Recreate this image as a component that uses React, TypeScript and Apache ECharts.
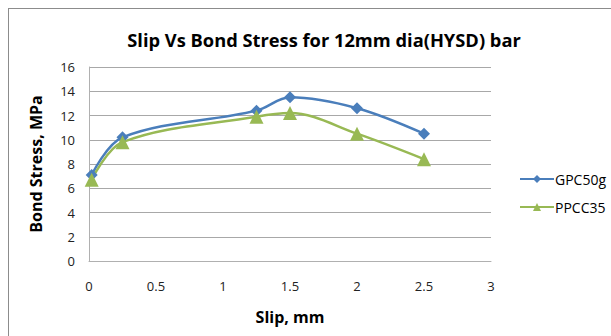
import React, { useEffect, useRef } from "react";
import * as echarts from "echarts";

const slip = [0.02, 0.25, 1.25, 1.5, 2, 2.5];
const gpc50g = [7.1, 10.2, 12.4, 13.5, 12.6, 10.5];
const ppcc35 = [6.7, 9.8, 11.9, 12.2, 10.5, 8.4];
const seriesNames = ["GPC50g", "PPCC35"];
const titleText = "Slip Vs Bond Stress for 12mm dia(HYSD) bar";
const xName = "Slip, mm";
const yName = "Bond Stress, MPa";

const FONT = "'Open Sans', sans-serif";

export default function App() {
  const ref = useRef<HTMLDivElement>(null);
  useEffect(() => {
    document.body.style.margin = "0";
    document.body.style.overflow = "hidden";
    if (!ref.current) return;
    const chart = echarts.init(ref.current, null, { renderer: "svg" });
    chart.setOption({
      animation: false,
      backgroundColor: "#ffffff",
      title: {
        text: titleText,
        left: 319,
        top: 25,
        textAlign: "center",
        textStyle: { fontFamily: FONT, fontWeight: "bold", fontSize: 18.3, color: "#000" },
      },
      graphic: [
        { type: "line", shape: { x1: 8.5, y1: 8, x2: 8.5, y2: 336 }, style: { stroke: "#8c8c8c", lineWidth: 1 } },
        { type: "line", shape: { x1: 8, y1: 8.5, x2: 611, y2: 8.5 }, style: { stroke: "#8c8c8c", lineWidth: 1 } },
      ],
      legend: {
        orient: "vertical",
        left: 519,
        top: 172,
        padding: 0,
        itemWidth: 34,
        itemHeight: 10,
        itemGap: 14,
        data: seriesNames,
        textStyle: { fontFamily: FONT, fontSize: 14, color: "#000", padding: [0, 0, 0, -4] },
      },
      grid: { left: 89, right: 120, top: 67, bottom: 75 },
      xAxis: {
        type: "value",
        min: 0,
        max: 3,
        interval: 0.5,
        name: xName,
        nameLocation: "middle",
        nameGap: 48,
        nameTextStyle: { fontFamily: FONT, fontWeight: "bold", fontSize: 16, color: "#000" },
        axisLine: { show: true, lineStyle: { color: "#b0b0b0", width: 1 } },
        axisTick: { show: false },
        splitLine: { show: false },
        axisLabel: { fontFamily: FONT, fontSize: 13, color: "#222", margin: 18 },
      },
      yAxis: {
        type: "value",
        min: 0,
        max: 16,
        interval: 2,
        name: yName,
        nameLocation: "middle",
        nameGap: 45,
        nameTextStyle: { fontFamily: FONT, fontWeight: "bold", fontSize: 16, color: "#000" },
        axisLine: { show: true, lineStyle: { color: "#b0b0b0", width: 1 } },
        axisTick: { show: false },
        splitLine: { show: true, lineStyle: { color: "#a8a8a8", width: 1 } },
        axisLabel: { fontFamily: FONT, fontSize: 13, color: "#222", margin: 14 },
      },
      series: [
        {
          name: seriesNames[0],
          type: "line",
          data: slip.map((x, i) => [x, gpc50g[i]]),
          smooth: 0.35,
          symbol: "diamond",
          symbolSize: 12,
          lineStyle: { color: "#4a7ebb", width: 2.5 },
          itemStyle: { color: "#4a7ebb" },
        },
        {
          name: seriesNames[1],
          type: "line",
          data: slip.map((x, i) => [x, ppcc35[i]]),
          smooth: 0.35,
          symbol: "triangle",
          symbolSize: 14,
          lineStyle: { color: "#98b954", width: 2.5 },
          itemStyle: { color: "#98b954" },
        },
      ],
    });
    return () => chart.dispose();
  }, []);
  return <div ref={ref} style={{ width: 611, height: 336 }} />;
}
